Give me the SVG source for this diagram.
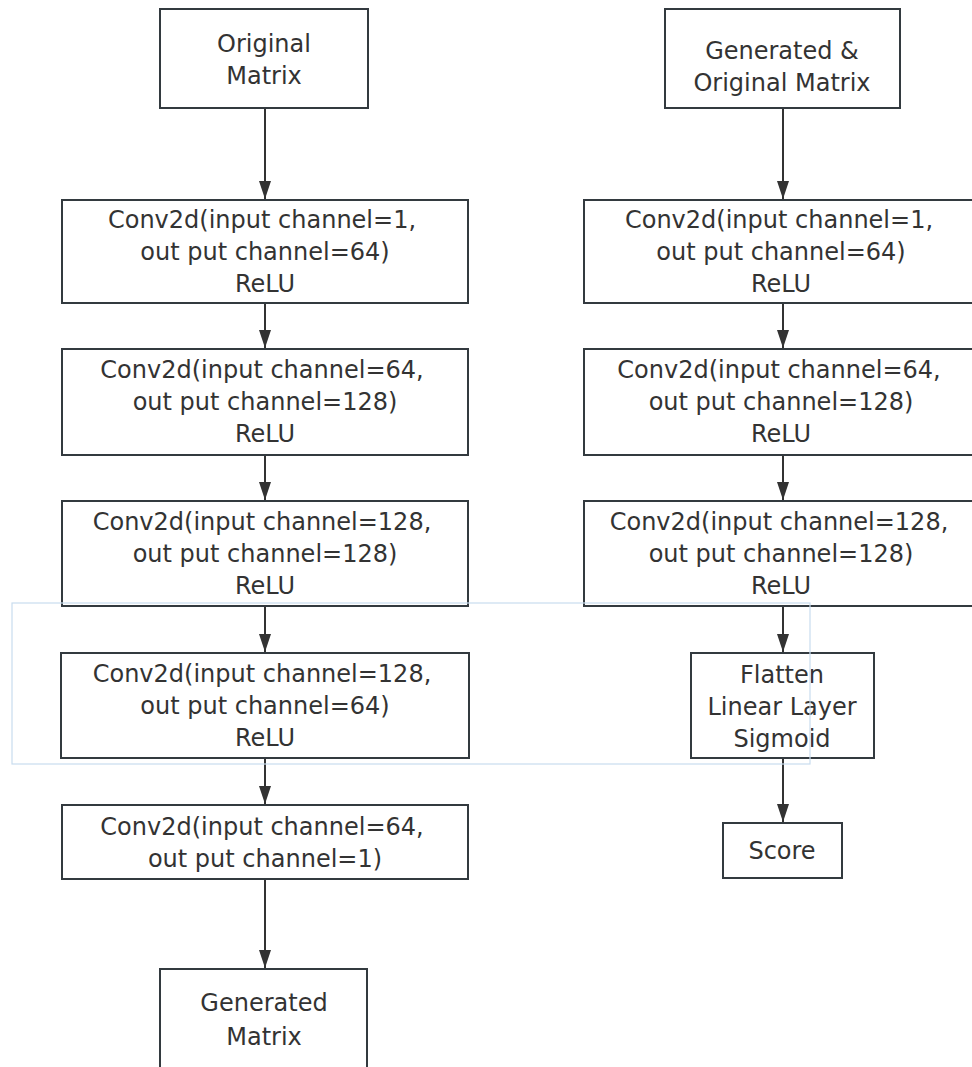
<svg xmlns="http://www.w3.org/2000/svg" width="972" height="1067" viewBox="0 0 972 1067">
<style>
.box{fill:#ffffff;stroke:#333a3f;stroke-width:2}
.t{font-family:"DejaVu Sans","Noto Sans",sans-serif;font-size:24px;fill:#333333;text-anchor:middle}
.c{stroke:#333333;stroke-width:2;fill:none}
</style>
<defs>
<marker id="ah" markerUnits="userSpaceOnUse" markerWidth="18" markerHeight="12" refX="18" refY="6" orient="auto" viewBox="0 0 18 12">
<path d="M0,0 L18,6 L0,12 Z" fill="#333333"/>
</marker>
</defs>
<rect width="972" height="1067" fill="#ffffff"/>
<g id="connectors">
<line class="c" x1="265" y1="108" x2="265" y2="199" marker-end="url(#ah)"/>
<line class="c" x1="265" y1="303" x2="265" y2="348" marker-end="url(#ah)"/>
<line class="c" x1="265" y1="455" x2="265" y2="500" marker-end="url(#ah)"/>
<line class="c" x1="265" y1="606" x2="265" y2="652" marker-end="url(#ah)"/>
<line class="c" x1="265" y1="758" x2="265" y2="804" marker-end="url(#ah)"/>
<line class="c" x1="265" y1="879" x2="265" y2="968" marker-end="url(#ah)"/>
<line class="c" x1="783" y1="108" x2="783" y2="199" marker-end="url(#ah)"/>
<line class="c" x1="783" y1="303" x2="783" y2="348" marker-end="url(#ah)"/>
<line class="c" x1="783" y1="455" x2="783" y2="500" marker-end="url(#ah)"/>
<line class="c" x1="783" y1="606" x2="783" y2="652" marker-end="url(#ah)"/>
<line class="c" x1="783" y1="758" x2="783" y2="822" marker-end="url(#ah)"/>
</g>
<g id="n-original">
<rect class="box" x="160" y="9" width="208" height="99"/>
<text class="t" x="264" y="52">Original</text>
<text class="t" x="264" y="84">Matrix</text>
</g>
<g id="n-l1">
<rect class="box" x="62" y="200" width="406" height="103"/>
<text class="t" x="262" y="228">Conv2d(input channel=1,</text>
<text class="t" x="265" y="260">out put channel=64)</text>
<text class="t" x="265" y="292">ReLU</text>
</g>
<g id="n-l2">
<rect class="box" x="62" y="349" width="406" height="106"/>
<text class="t" x="262" y="378">Conv2d(input channel=64,</text>
<text class="t" x="265" y="410">out put channel=128)</text>
<text class="t" x="265" y="442">ReLU</text>
</g>
<g id="n-l3">
<rect class="box" x="62" y="501" width="406" height="105"/>
<text class="t" x="262" y="530">Conv2d(input channel=128,</text>
<text class="t" x="265" y="562">out put channel=128)</text>
<text class="t" x="265" y="594">ReLU</text>
</g>
<g id="n-l4">
<rect class="box" x="61" y="653" width="408" height="105"/>
<text class="t" x="262" y="682">Conv2d(input channel=128,</text>
<text class="t" x="265" y="714">out put channel=64)</text>
<text class="t" x="265" y="746">ReLU</text>
</g>
<g id="n-l5">
<rect class="box" x="62" y="805" width="406" height="74"/>
<text class="t" x="262" y="835">Conv2d(input channel=64,</text>
<text class="t" x="265" y="867">out put channel=1)</text>
</g>
<g id="n-generated">
<rect class="box" x="160" y="969" width="207" height="110"/>
<text class="t" x="264" y="1011">Generated</text>
<text class="t" x="264" y="1045">Matrix</text>
</g>
<g id="n-genorig">
<rect class="box" x="665" y="9" width="235" height="99"/>
<text class="t" x="782" y="59">Generated &amp;</text>
<text class="t" x="782" y="91">Original Matrix</text>
</g>
<g id="n-r1">
<rect class="box" x="584" y="200" width="400" height="103"/>
<text class="t" x="779" y="228">Conv2d(input channel=1,</text>
<text class="t" x="781" y="260">out put channel=64)</text>
<text class="t" x="781" y="292">ReLU</text>
</g>
<g id="n-r2">
<rect class="box" x="584" y="349" width="400" height="106"/>
<text class="t" x="779" y="378">Conv2d(input channel=64,</text>
<text class="t" x="781" y="410">out put channel=128)</text>
<text class="t" x="781" y="442">ReLU</text>
</g>
<g id="n-r3">
<rect class="box" x="584" y="501" width="400" height="105"/>
<text class="t" x="779" y="530">Conv2d(input channel=128,</text>
<text class="t" x="781" y="562">out put channel=128)</text>
<text class="t" x="781" y="594">ReLU</text>
</g>
<g id="n-flatten">
<rect class="box" x="691" y="653" width="183" height="105"/>
<text class="t" x="782" y="683">Flatten</text>
<text class="t" x="782" y="715">Linear Layer</text>
<text class="t" x="782" y="747">Sigmoid</text>
</g>
<g id="n-score">
<rect class="box" x="723" y="823" width="119" height="55"/>
<text class="t" x="782" y="859">Score</text>
</g>
<rect x="12" y="603" width="798" height="161" fill="none" stroke="#c9dcee" stroke-width="1.2"/>
</svg>
